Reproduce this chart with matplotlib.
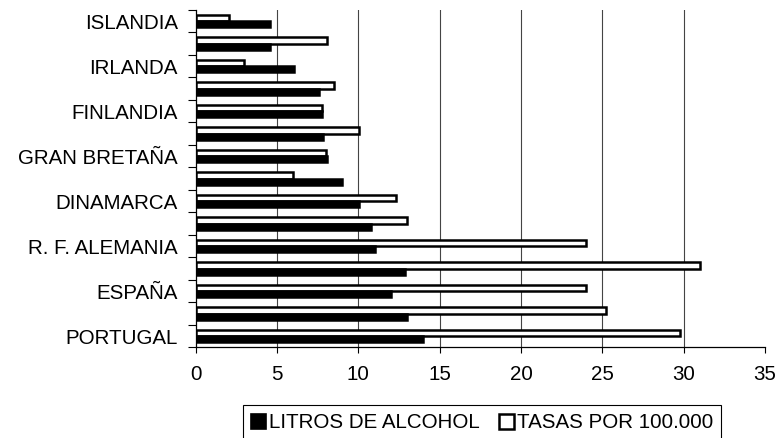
import matplotlib
matplotlib.use("Agg")
import matplotlib.pyplot as plt
import numpy as np
from matplotlib.patches import Patch

plt.rcParams["font.family"] = ["Liberation Sans", "DejaVu Sans"]

# categorías de abajo hacia arriba (solo una de cada dos lleva rótulo)
paises = ["PORTUGAL", "", "ESPAÑA", "", "R. F. ALEMANIA", "", "DINAMARCA", "",
          "GRAN BRETAÑA", "", "FINLANDIA", "", "IRLANDA", "", "ISLANDIA"]
litros = [14.0, 13.0, 12.0, 12.85, 11.05, 10.8, 10.05, 9.0,
          8.05, 7.85, 7.75, 7.6, 6.05, 4.55, 4.55]
tasas = [29.8, 25.2, 24.0, 31.0, 24.0, 13.0, 12.3, 6.0,
         8.0, 10.05, 7.75, 8.5, 3.0, 8.05, 2.05]
xticks = [0, 5, 10, 15, 20, 25, 30, 35]

FS = 14.8
W, H = 778, 438
fig = plt.figure(figsize=(W / 100, H / 100), dpi=100)
ax = fig.add_axes([195.7 / W, 1 - 347.3 / H, (765 - 195.7) / W, (347.3 - 9.8) / H])

y = np.arange(len(paises))
h = 0.27
ax.barh(y + h / 2, tasas, height=h, color="white", edgecolor="black", linewidth=1.8, zorder=3)
ax.barh(y - h / 2, litros, height=h, color="black", edgecolor="black", linewidth=1.8, zorder=3)

ax.set_xlim(0, 35)
ax.set_ylim(-0.5, len(paises) - 0.5)
ax.set_xticks(xticks)
ax.set_xticklabels([str(v) for v in xticks], fontsize=FS)
ax.set_yticks(y)
ax.set_yticklabels(paises, fontsize=FS)
ax.set_yticks(np.arange(len(paises) + 1) - 0.5, minor=True)
ax.tick_params(axis="y", which="major", length=0, pad=13)
ax.tick_params(axis="y", which="minor", length=5.5, width=0.8, direction="out")
ax.tick_params(axis="x", which="major", length=4.5, width=0.8, direction="out", pad=8)

for s in ["top", "right"]:
    ax.spines[s].set_visible(False)
for s in ["left", "bottom"]:
    ax.spines[s].set_linewidth(0.9)

ax.xaxis.grid(True, color="#444444", linewidth=0.8, zorder=0)
ax.set_axisbelow(True)
gl = ax.get_xgridlines()
gl[0].set_visible(False)
gl[-1].set_visible(False)

handles = [Patch(facecolor="black", edgecolor="black", linewidth=1.2),
           Patch(facecolor="white", edgecolor="black", linewidth=1.8)]
leg = fig.legend(handles, ["LITROS DE ALCOHOL", "TASAS POR 100.000"], ncol=2,
                 loc="center", bbox_to_anchor=(482 / W, 1 - 423 / H),
                 fontsize=FS, frameon=True, fancybox=False, framealpha=1,
                 edgecolor="black", handlelength=0.75, handleheight=0.75,
                 handletextpad=0.15, columnspacing=0.9, borderpad=0.4,
                 borderaxespad=0)
leg.get_frame().set_linewidth(0.8)

fig.savefig("out.png", dpi=100, facecolor="white")
